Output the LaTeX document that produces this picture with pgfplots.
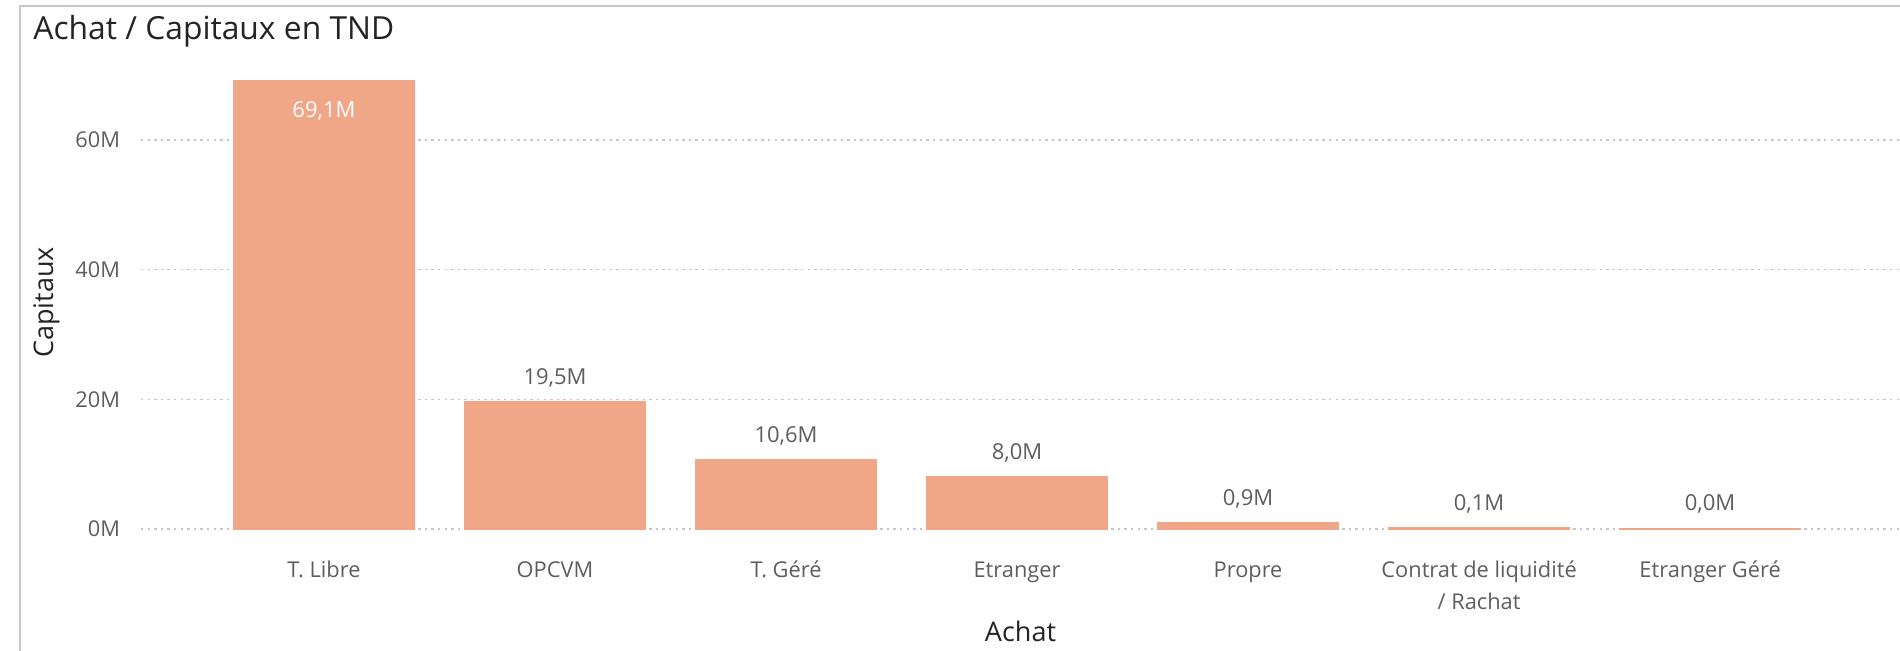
\documentclass[border=0pt]{standalone}
\usepackage{pgfplots}
\pgfplotsset{compat=1.18}
\usepackage{pgfplotstable}
\usepackage{fontspec}
\setmainfont{Open Sans}

\definecolor{barcol}{HTML}{F0A788}
\definecolor{txtgray}{HTML}{605E5C}
\definecolor{txtdark}{HTML}{252423}
\definecolor{gridgray}{HTML}{C8C6C4}
\definecolor{framegray}{HTML}{C8C8C8}

% capitaux en millions de TND
\pgfplotstableread{
x y lab
0 69.1 {69,1M}
}\bigbar
\pgfplotstableread{
x y lab
1 19.5 {19,5M}
2 10.6 {10,6M}
3 8.0 {8,0M}
4 0.9 {0,9M}
5 0.1 {0,1M}
6 0.03 {0,0M}
}\smallbars

\begin{document}
\begin{tikzpicture}
\path[use as bounding box] (0,0) rectangle (950pt,325.5pt);
\draw[framegray, line width=0.9pt] (10pt,0) -- (10pt,322.5pt) -- (950pt,322.5pt);
\node[anchor=base west, text=txtdark, font=\fontsize{15.9}{18}\selectfont, inner sep=0pt]
  at (16.5pt,305.5pt) {Achat / Capitaux en TND};
\begin{axis}[
  at={(70.5pt,61pt)}, anchor=south west,
  scale only axis, width=879.5pt, height=233.4pt,
  xmin=-0.792, xmax=6.822, ymin=0, ymax=72,
  ybar, bar width=90pt, bar shift=0pt,
  axis line style={draw=none}, major tick length=0pt,
  ytick={0,20,40,60}, yticklabels={0M,20M,40M,60M},
  xtick={0,...,6},
  xticklabels={T. Libre, OPCVM, T. Géré, Etranger, Propre,
    {\begin{tabular}[t]{@{}c@{}}Contrat de liquidité\\/ Rachat\end{tabular}}, Etranger Géré},
  ymajorgrids,
  grid style={gridgray, line width=0.6pt, dash pattern=on 1.2pt off 2.1pt},
  tick label style={text=txtgray, font=\fontsize{10.9}{16}\selectfont},
  yticklabel style={anchor=east, xshift=-7pt},
  xticklabel style={anchor=base, yshift=-24.5pt},
  xlabel={Achat},
  xlabel style={at={(axis description cs:0.5,-0.242)}, anchor=base,
    text=txtdark, font=\fontsize{13.5}{16}\selectfont},
  ylabel={Capitaux},
  ylabel style={at={(axis description cs:-0.05,0.485)}, anchor=base,
    text=txtdark, font=\fontsize{13.5}{16}\selectfont},
  clip=false,
]
\addplot[fill=barcol, draw=barcol, line width=1.1pt,
  nodes near coords, point meta=explicit symbolic,
  nodes near coords style={text=white, font=\fontsize{11}{13}\selectfont,
    anchor=base, yshift=-18pt}]
  table[x=x, y=y, meta=lab] {\bigbar};
\addplot[fill=barcol, draw=barcol, line width=1.1pt,
  nodes near coords, point meta=explicit symbolic,
  nodes near coords style={text=txtgray, font=\fontsize{11}{13}\selectfont,
    anchor=base, yshift=9pt}]
  table[x=x, y=y, meta=lab] {\smallbars};
\end{axis}
\end{tikzpicture}
\end{document}
